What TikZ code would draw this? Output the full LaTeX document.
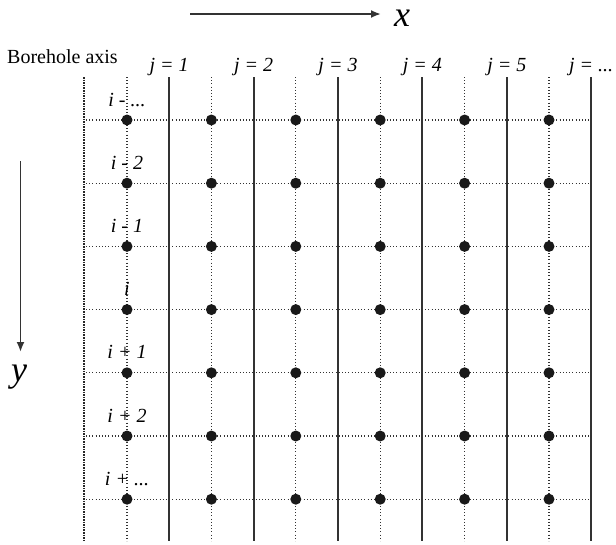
\documentclass[tikz,border=0pt]{standalone}
\usepackage{fontspec}
\setmainfont{Liberation Serif}
\usetikzlibrary{arrows.meta}
\definecolor{linegray}{HTML}{333333}
\def\mydots{...}
\tikzset{
  cell/.style={line width=1.9pt, draw=linegray},
  gridline/.style={line width=1.1pt, draw=linegray, dash pattern=on 1pt off 2.2pt},
  borehole/.style={line width=1.8pt, draw=black!85, dash pattern=on 1.6pt off 1pt},
  nodedot/.style={circle, fill=black!90, inner sep=0pt, minimum size=11pt},
  lab/.style={font=\fontsize{20}{22}\selectfont\itshape, inner sep=0pt, anchor=base},
  axlab/.style={font=\fontsize{36}{38}\selectfont\itshape, inner sep=0pt, anchor=base, text height=0.5em},
  axarrow/.style={line width=1.9pt, draw=linegray, -{Latex[length=10pt,width=8pt]}}
}
\begin{document}
\begin{tikzpicture}[x=1pt,y=-1pt]
\useasboundingbox (0,0) rectangle (616,544);
% axes
\coordinate (xs) at (190,14);
\coordinate (xe) at (381,14);
\draw[axarrow] (xs) -- (xe);
\node[axlab] (xl) at (402,26) {x};
\coordinate (ys) at (20.5,161);
\coordinate (ye) at (20.5,352);
\draw[axarrow] (ys) -- (ye);
\node[axlab] (yl) at (19,381) {y};
% borehole axis
\node[font=\fontsize{20}{22}\selectfont, inner sep=0pt, anchor=base west] (bh) at (7,63.5) {Borehole axis};
\coordinate (bt) at (84.3,77);
\coordinate (bb) at (84.3,541);
\draw[borehole] (bt) -- (bb);
% horizontal dotted lines
\foreach \r in {0,1,2,3,4,5,6} {
  \coordinate (hl\r) at (86,{120+63.2*\r});
  \coordinate (hr\r) at (591.2,{120+63.2*\r});
  \draw[gridline] (hl\r) -- (hr\r);
}
% vertical dotted lines and solid lines
\foreach \k in {0,1,2,3,4,5} {
  \coordinate (vt\k) at ({127+84.4*\k},77);
  \coordinate (vb\k) at ({127+84.4*\k},541);
  \draw[gridline] (vt\k) -- (vb\k);
  \coordinate (st\k) at ({169.2+84.4*\k},77);
  \coordinate (sb\k) at ({169.2+84.4*\k},541);
  \draw[cell] (st\k) -- (sb\k);
}
% j labels
\foreach \k/\t in {0/1,1/2,2/3,3/4,4/5,5/\mydots} {
  \node[lab] (j\k) at ({169.2+84.4*\k},71) {j = \t};
}
% i labels
\foreach \r/\t in {0/i - \mydots,1/i - 2,2/i - 1,3/i,4/i + 1,5/i + 2,6/i + \mydots} {
  \node[lab] (i\r) at (127,{120+63.2*\r-14}) {\t};
}
% dots
\foreach \r in {0,1,2,3,4,5,6} {
  \foreach \k in {0,1,2,3,4,5} {
    \node[nodedot] (d\r-\k) at ({127+84.4*\k},{120+63.2*\r}) {};
  }
}
\end{tikzpicture}
\end{document}
